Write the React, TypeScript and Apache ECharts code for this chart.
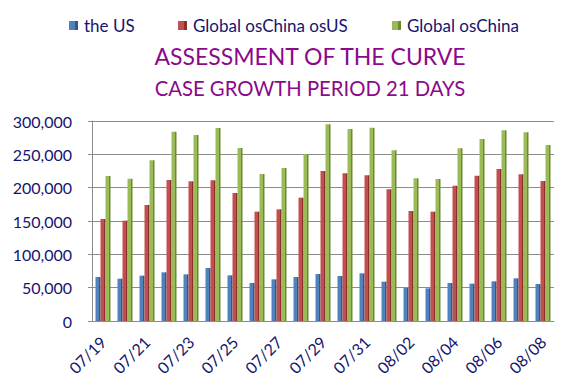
import React, { useEffect, useRef } from "react";
import * as echarts from "echarts";

const categories = [
  "07/19", "07/20", "07/21", "07/22", "07/23", "07/24", "07/25",
  "07/26", "07/27", "07/28", "07/29", "07/30", "07/31", "08/01",
  "08/02", "08/03", "08/04", "08/05", "08/06", "08/07", "08/08",
];

const theUS = [
  66000, 63500, 68000, 73000, 70000, 79500, 68500,
  57000, 62500, 66000, 70500, 67500, 71500, 59000,
  49500, 49000, 57000, 56000, 59500, 64000, 55500,
];

const globalExChinaExUS = [
  153000, 150500, 174000, 211500, 209500, 211000, 192000,
  164000, 167500, 185000, 225000, 221500, 218500, 197500,
  165000, 164000, 203000, 218000, 228000, 220000, 210000,
];

const globalExChina = [
  217500, 213500, 241000, 284000, 279000, 289500, 259500,
  220500, 229500, 250000, 295000, 288000, 290000, 256000,
  214000, 213000, 259000, 273000, 286000, 283000, 264000,
];

const seriesNames = ["the US", "Global osChina osUS", "Global osChina"];
const titleText = "ASSESSMENT OF THE CURVE";
const subtitleText = "CASE GROWTH PERIOD 21 DAYS";

const seriesColors = ["#4F81BD", "#C0504D", "#9BBB59"];
const seriesDark = ["#2E5A8E", "#8E2F2C", "#6B8A32"];

const FONT = "Lato, 'Open Sans', sans-serif";
const NAVY = "#14146E";
const PURPLE = "#8B0A8B";

function grad(i: number) {
  return new echarts.graphic.LinearGradient(0, 0, 1, 0, [
    { offset: 0, color: seriesColors[i] },
    { offset: 0.7, color: seriesColors[i] },
    { offset: 0.71, color: seriesDark[i] },
    { offset: 1, color: seriesDark[i] },
  ]);
}

export default function App() {
  const ref = useRef<HTMLDivElement>(null);
  useEffect(() => {
    if (!ref.current) return;
    const chart = echarts.init(ref.current, undefined, { renderer: "svg" });
    const data = [theUS, globalExChinaExUS, globalExChina];
    const legendLefts = [69, 178, 392];
    chart.setOption({
      animation: false,
      backgroundColor: "#ffffff",
      graphic: [
        {
          type: "text",
          x: 310,
          y: 56,
          style: {
            text: titleText,
            fill: PURPLE,
            font: `23px ${FONT}`,
            textAlign: "center",
            textVerticalAlign: "middle",
          },
        },
        {
          type: "text",
          x: 310,
          y: 87.5,
          style: {
            text: subtitleText,
            fill: PURPLE,
            font: `20.3px ${FONT}`,
            textAlign: "center",
            textVerticalAlign: "middle",
          },
        },
      ],
      legend: seriesNames.map((n, i) => ({
        data: [n],
        left: legendLefts[i],
        top: 17,
        padding: 0,
        icon: "rect",
        itemWidth: 9,
        itemHeight: 9,
        itemGap: 0,
        textStyle: { color: NAVY, fontFamily: FONT, fontSize: 17, padding: [0, 0, 0, 1] },
      })),
      grid: { left: 92, right: 26, top: 121, bottom: 68, containLabel: false },
      xAxis: {
        type: "category",
        data: categories,
        boundaryGap: true,
        axisLine: { lineStyle: { color: "#8C8C8C" } },
        axisTick: { interval: 1, length: 5, lineStyle: { color: "#8C8C8C" } },
        axisLabel: {
          interval: 1,
          rotate: 45,
          margin: 18,
          color: NAVY,
          fontFamily: FONT,
          fontSize: 16,
        },
      },
      yAxis: {
        type: "value",
        min: 0,
        max: 300000,
        interval: 50000,
        axisLine: { show: true, lineStyle: { color: "#8C8C8C" } },
        axisTick: { show: true, length: 4, lineStyle: { color: "#8C8C8C" } },
        axisLabel: {
          margin: 20,
          color: NAVY,
          fontFamily: FONT,
          fontSize: 16,
          formatter: (v: number) => v.toLocaleString("en-US"),
        },
        splitLine: { lineStyle: { color: "#8C8C8C", width: 1 } },
      },
      series: seriesNames.map((n, i) => ({
        name: n,
        type: "bar",
        data: data[i],
        barWidth: 5,
        barGap: "0%",
        itemStyle: { color: grad(i) },
      })),
    });
    return () => chart.dispose();
  }, []);
  return (
    <div
      ref={ref}
      style={{ position: "absolute", left: 0, top: 0, width: 580, height: 389 }}
    />
  );
}
